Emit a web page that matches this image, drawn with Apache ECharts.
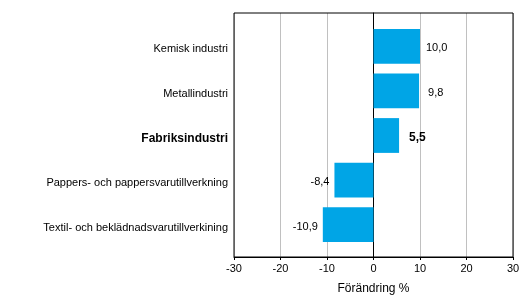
<!DOCTYPE html>
<html>
<head>
<meta charset="utf-8">
<script src="https://cdn.jsdelivr.net/npm/echarts@6/dist/echarts.min.js"></script>
<style>html,body{margin:0;padding:0;background:#fff;}#c{width:525px;height:300px;}</style>
</head>
<body>
<div id="c"></div>
<script>
var categories = ["Kemisk industri", "Metallindustri", "Fabriksindustri", "Pappers- och pappersvarutillverkning", "Textil- och beklädnadsvarutillverkining"];
var values = [10.0, 9.8, 5.5, -8.4, -10.9];
var boldCategory = "Fabriksindustri";
var xTicks = [-30, -20, -10, 0, 10, 20, 30];
var axisTitle = "Förändring %";

var labelGaps = [6, 9, 10, 5, 5];
var FONT = 'Liberation Sans, Arial, sans-serif';
var chart = echarts.init(document.getElementById('c'), null, {renderer: 'canvas'});
var fmt = function (v) { return v.toFixed(1).replace('.', ','); };
var data = values.map(function (v, i) {
  var bold = categories[i] === boldCategory;
  return {
    value: v,
    label: {
      show: true,
      position: v < 0 ? 'left' : 'right',
      distance: labelGaps[i],
      offset: [0, 2],
      formatter: function (p) { return fmt(p.value); },
      fontFamily: FONT,
      fontSize: bold ? 12 : 11,
      fontWeight: bold ? 'bold' : 'normal',
      color: '#000'
    }
  };
});
var xMin = xTicks[0], xMax = xTicks[xTicks.length - 1];
chart.setOption({
  animation: false,
  grid: [
    {left: 234, right: 12, top: 13, bottom: 42, show: true, borderColor: '#000', borderWidth: 1, backgroundColor: 'transparent', z: 3},
    {left: 234, right: 12, top: 24, bottom: 53, show: false}
  ],
  xAxis: [{
    gridIndex: 0, type: 'value', min: xMin, max: xMax, interval: 10,
    name: axisTitle, nameLocation: 'middle', nameGap: 26,
    nameTextStyle: {fontFamily: FONT, fontSize: 12, color: '#000'},
    axisLine: {show: true, lineStyle: {color: '#000'}},
    axisTick: {show: true, length: 3, lineStyle: {color: '#000'}},
    axisLabel: {fontFamily: FONT, fontSize: 11, color: '#000', margin: 6},
    splitLine: {show: true, lineStyle: {color: '#c0c0c0'}}
  }, {
    gridIndex: 1, type: 'value', min: xMin, max: xMax, interval: 10, show: false,
    splitLine: {show: false}
  }],
  yAxis: [{
    gridIndex: 0, type: 'value', min: 0, max: 1,
    axisLine: {show: true, onZero: true, lineStyle: {color: '#000'}},
    axisTick: {show: false}, axisLabel: {show: false}, splitLine: {show: false}
  }, {
    gridIndex: 1, type: 'category', data: categories, inverse: true,
    axisLine: {show: false},
    axisTick: {show: false},
    axisLabel: {
      margin: 6,
      padding: [6, 0, 0, 0],
      fontFamily: FONT, fontSize: 11, color: '#000',
      formatter: function (v) { return v === boldCategory ? '{b|' + v + '}' : v; },
      rich: {b: {fontWeight: 'bold', fontSize: 12, fontFamily: FONT, color: '#000'}}
    }
  }],
  series: [{
    type: 'bar', xAxisIndex: 1, yAxisIndex: 1, data: data, barCategoryGap: '22%',
    itemStyle: {color: '#00A5E6'}
  }]
});
</script>
</body>
</html>
